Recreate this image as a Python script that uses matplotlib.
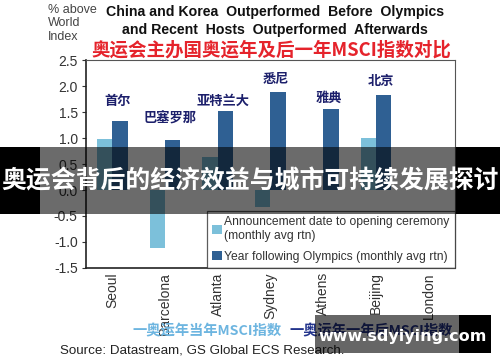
import matplotlib
matplotlib.use("Agg")
import matplotlib.pyplot as plt
import numpy as np
from matplotlib.patches import Rectangle

plt.rcParams['font.family'] = ['Liberation Sans', 'Noto Sans CJK SC', 'DejaVu Sans']

cities = ["Seoul", "Barcelona", "Atlanta", "Sydney", "Athens", "Beijing", "London"]
cities_cn = ["首尔", "巴塞罗那", "亚特兰大", "悉尼", "雅典", "北京", ""]
announce = [0.98, -1.12, 0.63, -0.32, 0.0, 1.00, np.nan]
following = [1.33, 0.96, 1.52, 1.89, 1.56, 1.83, np.nan]
yticks = [-1.5, -1.0, -0.5, 0.0, 0.5, 1.0, 1.5, 2.0, 2.5]

light = "#7cc0da"
dark = "#2f6093"
cjk = ['Noto Sans CJK SC', 'DejaVu Sans']

fig = plt.figure(figsize=(5, 3.62), dpi=100)
ax = fig.add_axes([0.172, 0.2597, 0.738, 0.5745])
x = np.arange(len(cities))
w = 0.29
ax.bar(x - w/2, announce, w, color=light, label="Announcement date to opening ceremony\n(monthly avg rtn)")
ax.bar(x + w/2, following, w, color=dark, label="Year following Olympics (monthly avg rtn)")
ax.set_xlim(-0.5, 6.5)
ax.set_ylim(-1.5, 2.5)
ax.set_yticks(yticks)
ax.set_yticklabels([f"{v:.1f}" for v in yticks], fontsize=10, color="#333333")
ax.set_xticks(x)
ax.set_xticklabels(cities, rotation=90, fontsize=10, color="#333333")
ax.tick_params(axis='x', length=0, pad=3)
ax.tick_params(axis='y', length=3, width=0.8, color="#333333", pad=3)
for s in ['left', 'bottom']:
    ax.spines[s].set_color("#222222")
    ax.spines[s].set_linewidth(1.2)
for s in ['top', 'right']:
    ax.spines[s].set_color("#555555")
    ax.spines[s].set_linewidth(0.8)

# Chinese city labels above bars
label_y = [1.72, 1.38, 1.72, 2.13, 1.78, 2.1]
for i, lab in enumerate(cities_cn):
    if lab:
        ax.text(x[i] + 0.1, label_y[i], lab, ha='center', va='center', fontsize=9.5,
                fontweight='bold', color="#1c1f6b", family=cjk)

leg = ax.legend(loc='lower right', bbox_to_anchor=(1.0, 0.0), fontsize=8.7, frameon=True,
                fancybox=False, edgecolor="#333333", handlelength=0.8, handleheight=0.8,
                handletextpad=0.2, borderpad=0.45, labelspacing=0.7, borderaxespad=0)
leg.get_frame().set_linewidth(0.9)
for t in leg.get_texts():
    t.set_color("#333333")

# Titles and annotations
fig.text(0.096, 0.99, "% above\nWorld\nIndex", ha='left', va='top', fontsize=9, color="#444444",
         linespacing=1.2)
fig.text(0.55, 0.985, "China and Korea  Outperformed  Before  Olympics\nand Recent  Hosts  Outperformed  Afterwards",
         ha='center', va='top', fontsize=10.2, fontweight='bold', color="#111111", linespacing=1.3)
fig.text(0.543, 0.863, "奥运会主办国奥运年及后一年MSCI指数对比", ha='center', va='center',
         fontsize=13.3, fontweight='bold', color="#e5232b", family=cjk)

# Bottom legend texts and source
fig.text(0.264, 0.085, "一奥运年当年MSCI指数", ha='left', va='center', fontsize=10.3,
         fontweight='bold', color="#6db5e0", family=cjk)
fig.text(0.578, 0.085, "一奥运年一年后MSCI指数", ha='left', va='center', fontsize=10.3,
         fontweight='bold', color="#23348c", family=cjk)
fig.text(0.12, 0.033, "Source: Datastream, GS Global ECS Research.", ha='left', va='center',
         fontsize=9.6, color="#222222")

# Overlay banner
fig.patches.append(Rectangle((0, (362-214)/362), 1, 67/362, transform=fig.transFigure,
                             facecolor="#000000", alpha=0.58, zorder=10))
fig.patches.append(Rectangle((0, (362-214)/362), 40/500, 67/362, transform=fig.transFigure,
                             facecolor="#000000", alpha=1.0, zorder=11))
fig.patches.append(Rectangle((456/500, (362-214)/362), 44/500, 67/362, transform=fig.transFigure,
                             facecolor="#000000", alpha=1.0, zorder=11))
fig.text(0.5, (362-181)/362, "奥运会背后的经济效益与城市可持续发展探讨", ha='center', va='center',
         fontsize=17.9, fontweight='bold', color="white", family=cjk, zorder=12)

# Watermark
fig.patches.append(Rectangle((315/500, (362-353)/362), 144/500, 38/362, transform=fig.transFigure,
                             facecolor="#000000", alpha=0.6, zorder=10))
fig.patches.append(Rectangle((459/500, (362-353)/362), 32/500, 38/362, transform=fig.transFigure,
                             facecolor="#000000", alpha=1.0, zorder=11))
fig.text(403/500, (362-336)/362, "www.sdyiying.com", ha='center', va='center', fontsize=11.5,
         fontweight='bold', color="white", family=['DejaVu Sans'], zorder=12)

fig.savefig("out.png", dpi=100)
